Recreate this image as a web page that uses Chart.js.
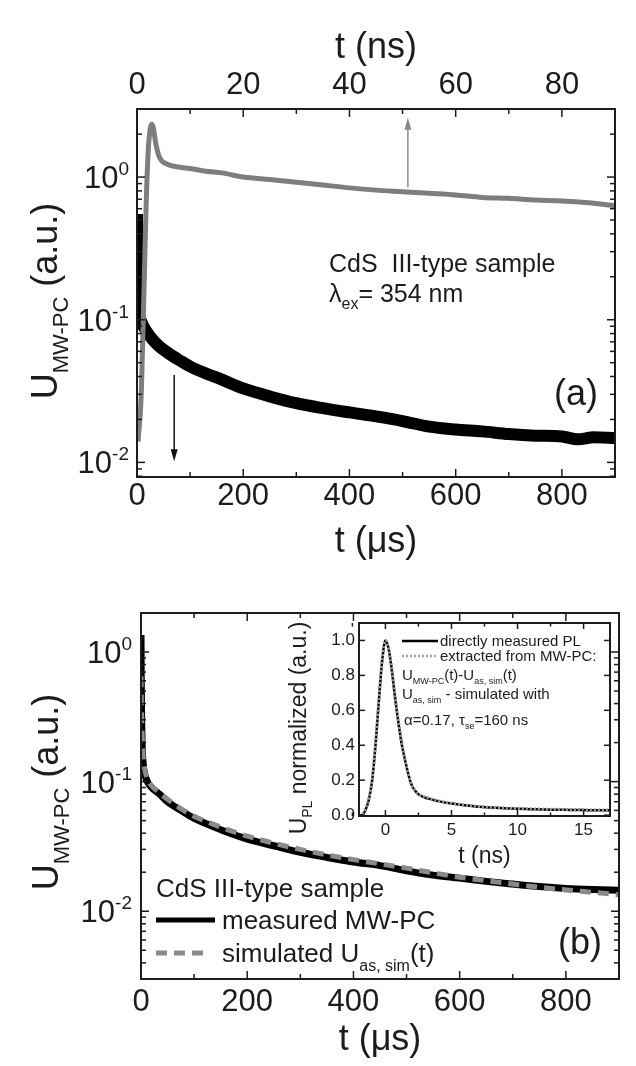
<!DOCTYPE html>
<html lang="en">
<head>
<meta charset="UTF-8">
<title>CdS III-type sample: MW-PC transients</title>
<script src="https://cdn.jsdelivr.net/npm/chart.js"></script>
<style>
    html, body { margin: 0; padding: 0; background: #fff; }
    body { width: 636px; height: 1066px; position: relative; overflow: hidden; }
    canvas { position: absolute; }
    #panelA { left: 0; top: 0; }
    #panelB { left: 0; top: 560px; }
    #inset { left: 250px; top: 600px; }
</style>
</head>
<body>
<canvas id="panelA" width="636" height="560"></canvas>
<canvas id="panelB" width="636" height="506"></canvas>
<canvas id="inset" width="370" height="280"></canvas>

<script>
// ---- panel (a): MW-PC decay on the microsecond scale (black) ----
const tUsA = [0, 1, 2, 4, 8, 15, 25, 40, 60, 80, 100, 130, 160, 200, 250, 300, 350, 400,
              450, 500, 550, 600, 650, 700, 750, 800, 830, 860, 900];
const mwpcUsA = [0.55, 0.25, 0.14, 0.11, 0.097, 0.086, 0.076, 0.066, 0.058, 0.052, 0.047, 0.042,
                 0.038, 0.033, 0.029, 0.026, 0.024, 0.0224, 0.021, 0.0195, 0.0178, 0.017, 0.0165,
                 0.0158, 0.0154, 0.0152, 0.0145, 0.015, 0.0148];

// ---- panel (a): same signal on the nanosecond scale (grey, top axis) ----
const tNsA = [0.2, 0.8, 1.3, 1.7, 2.1, 2.5, 2.8, 3.1, 3.5, 4.0, 4.5, 5.5, 7, 10, 13, 16, 20, 25,
              30, 35, 40, 45, 50, 55, 60, 65, 70, 75, 80, 85, 90];
const mwpcNsA = [0.014, 0.03, 0.15, 0.6, 1.5, 2.2, 2.35, 2.2, 1.75, 1.45, 1.32, 1.24, 1.19, 1.15,
                 1.1, 1.07, 1.0, 0.96, 0.92, 0.88, 0.84, 0.81, 0.79, 0.77, 0.75, 0.72, 0.71, 0.69,
                 0.68, 0.66, 0.63];

// ---- panel (b): measured vs simulated ----
const tUsB = [0, 0.5, 1, 2, 4, 7, 12, 20, 35, 50, 75, 100, 130, 160, 200, 250, 300, 350, 400,
              450, 500, 550, 600, 650, 700, 750, 800, 850, 900];
const measuredB = [1.35, 0.6, 0.35, 0.2, 0.14, 0.115, 0.1, 0.09, 0.08, 0.07, 0.06, 0.052, 0.046,
                   0.041, 0.036, 0.032, 0.0285, 0.026, 0.024, 0.0225, 0.0205, 0.019, 0.018, 0.017,
                   0.0162, 0.0155, 0.015, 0.0147, 0.0145];
const simulatedB = [0.65, 0.45, 0.35, 0.24, 0.16, 0.125, 0.105, 0.093, 0.082, 0.073, 0.062, 0.054,
                    0.048, 0.043, 0.038, 0.0335, 0.030, 0.0272, 0.025, 0.0232, 0.0215, 0.0198,
                    0.0183, 0.0172, 0.0162, 0.0153, 0.0146, 0.014, 0.0134];

// ---- inset: normalized PL ----
const tNsInset = [-2, -1.75, -1.5, -1.25, -1, -0.75, -0.5, -0.25, 0, 0.25, 0.5, 0.75, 1, 1.25, 1.5,
                  1.75, 2, 2.25, 2.5, 3, 3.5, 4, 5, 6, 7, 8, 9, 10, 11, 12, 13, 14, 15, 16, 17];
const plMeasured = [0, 0, 0.03, 0.09, 0.2, 0.4, 0.65, 0.88, 1.0, 0.95, 0.82, 0.66, 0.52, 0.4, 0.31,
                    0.23, 0.17, 0.14, 0.12, 0.1, 0.09, 0.08, 0.066, 0.056, 0.048, 0.043, 0.039,
                    0.036, 0.034, 0.032, 0.031, 0.03, 0.029, 0.028, 0.028];
const plExtracted = [-0.005, 0.005, 0.04, 0.1, 0.21, 0.41, 0.66, 0.89, 1.0, 0.95, 0.83, 0.67, 0.53,
                     0.41, 0.31, 0.23, 0.17, 0.14, 0.12, 0.105, 0.092, 0.082, 0.068, 0.058, 0.05,
                     0.045, 0.041, 0.038, 0.036, 0.034, 0.033, 0.032, 0.031, 0.03, 0.03];

// ---- ticks ----
const usMajor = [0, 200, 400, 600, 800];
const usMinor = [100, 300, 500, 700, 900];
const nsMajor = [0, 20, 40, 60, 80];
const nsMinor = [10, 30, 50, 70, 90];
const decadesA = [0.01, 0.1, 1];
const decadesB = [0.01, 0.1, 1];
const insetXMajor = [0, 5, 10, 15];
const insetXMinor = [-2.5, 2.5, 7.5, 12.5];
const insetYMajor = [0, 0.2, 0.4, 0.6, 0.8, 1.0];

const FONT = "'Liberation Sans', Arial, sans-serif";
const INK = '#1c1c1c';
const GREY = '#7e7e7e';

function zip(xs, ys) { return xs.map((x, i) => ({ x: x, y: ys[i] })); }

// minor log ticks 2..9 x 10^k inside [lo, hi]
function logMinor(lo, hi) {
    const out = [];
    for (let k = -4; k <= 1; k++) {
        for (let m = 2; m <= 9; m++) {
            const v = m * Math.pow(10, k);
            if (v >= lo && v <= hi) out.push(v);
        }
    }
    return out;
}

// text with sub/superscripts, parts = [{t, size, dy}]
function rich(ctx, parts, x, y, align) {
    let w = 0;
    parts.forEach(p => { ctx.font = p.size + 'px ' + FONT; w += ctx.measureText(p.t).width; });
    let cx = align === 'center' ? x - w / 2 : x;
    ctx.textAlign = 'left';
    ctx.textBaseline = 'alphabetic';
    parts.forEach(p => {
        ctx.font = p.size + 'px ' + FONT;
        ctx.fillText(p.t, cx, y + (p.dy || 0));
        cx += ctx.measureText(p.t).width;
    });
}

function richUp(ctx, parts, x, y) {
    ctx.save();
    ctx.translate(x, y);
    ctx.rotate(-Math.PI / 2);
    rich(ctx, parts, 0, 0, 'center');
    ctx.restore();
}

function arrow(ctx, x, yFrom, yTip, color) {
    const dir = Math.sign(yTip - yFrom);
    ctx.strokeStyle = color;
    ctx.fillStyle = color;
    ctx.lineWidth = 1.5;
    ctx.beginPath();
    ctx.moveTo(x, yFrom);
    ctx.lineTo(x, yTip - dir * 8);
    ctx.stroke();
    ctx.beginPath();
    ctx.moveTo(x, yTip);
    ctx.lineTo(x - 3.5, yTip - dir * 12);
    ctx.lineTo(x + 3.5, yTip - dir * 12);
    ctx.closePath();
    ctx.fill();
}

// "10" with exponent, right aligned to the left axis
function logLabels(chart, id, decades, gap) {
    const ctx = chart.ctx;
    const s = chart.scales[id];
    const left = chart.chartArea.left;
    ctx.fillStyle = INK;
    decades.forEach(d => {
        const y = s.getPixelForValue(d);
        const exp = String(Math.round(Math.log10(d)));
        ctx.font = '19px ' + FONT;
        const we = ctx.measureText(exp).width;
        ctx.font = '31px ' + FONT;
        const wb = ctx.measureText('10').width;
        rich(ctx, [{ t: '10', size: 31, dy: 11 }, { t: exp, size: 19, dy: -2 }],
             left - gap - we - wb, y, 'left');
    });
}

// inward tick marks on the frame, box and optional white fill
function frame(axes, fill) {
    return {
        id: 'frame',
        beforeDraw(chart) {
            if (!fill) return;
            const a = chart.chartArea;
            chart.ctx.fillStyle = fill;
            chart.ctx.fillRect(a.left, a.top, a.right - a.left, a.bottom - a.top);
        },
        afterDraw(chart) {
            const ctx = chart.ctx, a = chart.chartArea;
            ctx.save();
            ctx.strokeStyle = INK;
            ctx.lineWidth = 1.5;
            axes.forEach(ax => {
                const s = chart.scales[ax.id];
                const marks = ax.major.map(v => [v, ax.len[0]]).concat(ax.minor.map(v => [v, ax.len[1]]));
                marks.forEach(([v, len]) => {
                    const p = s.getPixelForValue(v);
                    ax.sides.forEach(side => {
                        ctx.beginPath();
                        if (side === 'bottom') { ctx.moveTo(p, a.bottom); ctx.lineTo(p, a.bottom - len); }
                        if (side === 'top') { ctx.moveTo(p, a.top); ctx.lineTo(p, a.top + len); }
                        if (side === 'left') { ctx.moveTo(a.left, p); ctx.lineTo(a.left + len, p); }
                        if (side === 'right') { ctx.moveTo(a.right, p); ctx.lineTo(a.right - len, p); }
                        ctx.stroke();
                    });
                });
            });
            ctx.lineWidth = 2;
            ctx.strokeRect(a.left, a.top, a.right - a.left, a.bottom - a.top);
            ctx.restore();
        }
    };
}

const common = {
    responsive: false,
    animation: false,
    events: [],
    plugins: { legend: { display: false }, tooltip: { enabled: false } },
    elements: {
        point: { radius: 0 },
        line: { cubicInterpolationMode: 'monotone', borderJoinStyle: 'round', fill: false }
    }
};

const noGrid = { display: false, drawTicks: false };
function tickFont(size) { return { family: FONT, size: size, lineHeight: 1 }; }

// ================= panel (a) =================
new Chart(document.getElementById('panelA'), {
    type: 'line',
    data: {
        datasets: [
            { data: zip(tNsA, mwpcNsA), xAxisID: 'x2', yAxisID: 'y', borderColor: GREY,
              borderWidth: 5, order: 0, clip: 0 },
            { data: zip(tUsA, mwpcUsA), xAxisID: 'x', yAxisID: 'y', borderColor: '#000',
              borderWidth: 12, order: 1, clip: 0 }
        ]
    },
    options: Object.assign({}, common, {
        layout: { padding: { right: 21 } },
        scales: {
            x: {
                type: 'linear', position: 'bottom', min: 0, max: 900,
                afterBuildTicks: s => { s.ticks = usMajor.concat([900]).map(v => ({ value: v })); },
                afterFit: s => { s.height = 83; },
                grid: noGrid, border: { display: false },
                ticks: { autoSkip: false, maxRotation: 0, padding: 4, color: INK, font: tickFont(31),
                         callback: v => usMajor.includes(v) ? String(v) : '' },
                title: { display: true, text: 't (\u03bcs)', color: INK, font: tickFont(36),
                         padding: { top: 0, bottom: 0 } }
            },
            x2: {
                type: 'linear', position: 'top', min: 0, max: 90,
                afterBuildTicks: s => { s.ticks = nsMajor.concat([90]).map(v => ({ value: v })); },
                afterFit: s => { s.height = 109; },
                grid: noGrid, border: { display: false },
                ticks: { autoSkip: false, maxRotation: 0, padding: 8, color: INK, font: tickFont(31),
                         callback: v => nsMajor.includes(v) ? String(v) : '' },
                title: { display: true, text: 't (ns)', color: INK, font: tickFont(36),
                         padding: { top: 30, bottom: 0 } }
            },
            y: {
                type: 'logarithmic', position: 'left', min: 0.0079, max: 3,
                afterBuildTicks: s => { s.ticks = decadesA.map(v => ({ value: v })); },
                afterFit: s => { s.width = 137; },
                grid: noGrid, border: { display: false },
                ticks: { display: false }
            }
        }
    }),
    plugins: [
        frame([
            { id: 'x', sides: ['bottom'], major: usMajor, minor: usMinor, len: [8, 5] },
            { id: 'x2', sides: ['top'], major: nsMajor, minor: nsMinor, len: [8, 5] },
            { id: 'y', sides: ['left', 'right'], major: decadesA, minor: logMinor(0.0079, 3), len: [8, 5] }
        ]),
        {
            id: 'notesA',
            afterDraw(chart) {
                const ctx = chart.ctx, sx = chart.scales.x, sx2 = chart.scales.x2, sy = chart.scales.y;
                ctx.save();
                logLabels(chart, 'y', decadesA, 8);
                ctx.fillStyle = INK;
                richUp(ctx, [{ t: 'U', size: 36 }, { t: 'MW-PC', size: 22, dy: 11 },
                             { t: ' (a.u.)', size: 36 }], 57, 301);
                rich(ctx, [{ t: 'CdS  III-type sample', size: 25 }], 329, 272, 'left');
                rich(ctx, [{ t: '\u03bb', size: 25 }, { t: 'ex', size: 16, dy: 7 },
                           { t: '= 354 nm', size: 25 }], 329, 302, 'left');
                ctx.font = '36px ' + FONT;
                ctx.textAlign = 'center';
                ctx.textBaseline = 'middle';
                ctx.fillText('(a)', 576, 395);
                arrow(ctx, sx2.getPixelForValue(51), sy.getPixelForValue(0.85), sy.getPixelForValue(2.6), '#8a8a8a');
                arrow(ctx, sx.getPixelForValue(70), sy.getPixelForValue(0.041), sy.getPixelForValue(0.0102), '#111');
                ctx.restore();
            }
        }
    ]
});

// ================= panel (b) =================
new Chart(document.getElementById('panelB'), {
    type: 'line',
    data: {
        datasets: [
            { data: zip(tUsB, simulatedB), xAxisID: 'x', yAxisID: 'y', borderColor: '#8a8a8a',
              borderWidth: 5, borderDash: [11, 7], order: 0, clip: 0 },
            { data: zip(tUsB, measuredB), xAxisID: 'x', yAxisID: 'y', borderColor: '#000',
              borderWidth: 7, order: 1, clip: 0 }
        ]
    },
    options: Object.assign({}, common, {
        layout: { padding: { top: 53, right: 17 } },
        scales: {
            x: {
                type: 'linear', position: 'bottom', min: 0, max: 900,
                afterBuildTicks: s => { s.ticks = usMajor.concat([900]).map(v => ({ value: v })); },
                afterFit: s => { s.height = 87; },
                grid: noGrid, border: { display: false },
                ticks: { autoSkip: false, maxRotation: 0, padding: 7.5, color: INK, font: tickFont(31),
                         callback: v => usMajor.includes(v) ? String(v) : '' },
                title: { display: true, text: 't (\u03bcs)', color: INK, font: tickFont(36),
                         padding: { top: 0, bottom: 8 } }
            },
            y: {
                type: 'logarithmic', position: 'left', min: 0.003, max: 2,
                afterBuildTicks: s => { s.ticks = decadesB.map(v => ({ value: v })); },
                afterFit: s => { s.width = 141; },
                grid: noGrid, border: { display: false },
                ticks: { display: false }
            }
        }
    }),
    plugins: [
        frame([
            { id: 'x', sides: ['bottom', 'top'], major: usMajor, minor: usMinor, len: [8, 5] },
            { id: 'y', sides: ['left', 'right'], major: decadesB, minor: logMinor(0.003, 2), len: [8, 5] }
        ]),
        {
            id: 'notesB',
            afterDraw(chart) {
                const ctx = chart.ctx;
                ctx.save();
                logLabels(chart, 'y', decadesB, 9);
                ctx.fillStyle = INK;
                richUp(ctx, [{ t: 'U', size: 36 }, { t: 'MW-PC', size: 22, dy: 11 },
                             { t: ' (a.u.)', size: 36 }], 58, 232);
                rich(ctx, [{ t: 'CdS III-type sample', size: 26 }], 156, 337, 'left');
                // legend samples
                ctx.lineWidth = 5;
                ctx.strokeStyle = '#000';
                ctx.beginPath(); ctx.moveTo(156, 360); ctx.lineTo(215, 360); ctx.stroke();
                ctx.strokeStyle = '#8a8a8a';
                ctx.setLineDash([11, 7]);
                ctx.beginPath(); ctx.moveTo(156, 393); ctx.lineTo(208, 393); ctx.stroke();
                ctx.setLineDash([]);
                rich(ctx, [{ t: 'measured MW-PC', size: 26 }], 222, 369, 'left');
                rich(ctx, [{ t: 'simulated U', size: 26 }, { t: 'as, sim', size: 16, dy: 9 },
                           { t: '(t)', size: 26 }], 222, 402, 'left');
                ctx.font = '36px ' + FONT;
                ctx.textAlign = 'center';
                ctx.textBaseline = 'middle';
                ctx.fillText('(b)', 580, 384);
                ctx.restore();
            }
        }
    ]
});

// ================= inset =================
new Chart(document.getElementById('inset'), {
    type: 'line',
    data: {
        datasets: [
            { data: zip(tNsInset, plExtracted), borderColor: '#9a9a9a', borderWidth: 3,
              borderDash: [2, 2], order: 0, clip: 0 },
            { data: zip(tNsInset, plMeasured), borderColor: '#000', borderWidth: 2.5, order: 1, clip: 0 }
        ]
    },
    options: Object.assign({}, common, {
        layout: { padding: { top: 23, right: 10 } },
        scales: {
            x: {
                type: 'linear', position: 'bottom', min: -2, max: 17,
                afterBuildTicks: s => { s.ticks = insetXMajor.map(v => ({ value: v })); },
                afterFit: s => { s.height = 64; },
                grid: noGrid, border: { display: false },
                ticks: { autoSkip: false, maxRotation: 0, padding: 5.5, color: INK, font: tickFont(17) },
                title: { display: true, text: 't (ns)', color: INK, font: tickFont(23),
                         padding: { top: 0, bottom: 11.5 } }
            },
            y: {
                type: 'linear', position: 'left', min: -0.005, max: 1.1,
                afterBuildTicks: s => { s.ticks = insetYMajor.map(v => ({ value: v })); },
                afterFit: s => { s.width = 109; },
                grid: noGrid, border: { display: false },
                ticks: { autoSkip: false, padding: 4, color: INK, font: tickFont(17),
                         callback: v => v.toFixed(1) }
            }
        }
    }),
    plugins: [
        frame([
            { id: 'x', sides: ['bottom', 'top'], major: insetXMajor, minor: insetXMinor, len: [6, 3.5] },
            { id: 'y', sides: ['left', 'right'], major: insetYMajor, minor: [], len: [6, 3.5] }
        ], '#ffffff'),
        {
            id: 'notesInset',
            afterDraw(chart) {
                const ctx = chart.ctx;
                ctx.save();
                ctx.fillStyle = INK;
                richUp(ctx, [{ t: 'U', size: 23 }, { t: 'PL', size: 14, dy: 6 },
                             { t: ' normalized (a.u.)', size: 23 }], 56, 128);
                ctx.lineWidth = 2.5;
                ctx.strokeStyle = '#000';
                ctx.beginPath(); ctx.moveTo(152, 41); ctx.lineTo(188, 41); ctx.stroke();
                ctx.strokeStyle = '#a8a8a8';
                ctx.setLineDash([2, 2]);
                ctx.beginPath(); ctx.moveTo(152, 56); ctx.lineTo(188, 56); ctx.stroke();
                ctx.setLineDash([]);
                rich(ctx, [{ t: 'directly measured PL', size: 15 }], 190, 46, 'left');
                rich(ctx, [{ t: 'extracted from MW-PC:', size: 15 }], 190, 61, 'left');
                rich(ctx, [{ t: 'U', size: 15 }, { t: 'MW-PC', size: 9, dy: 4 }, { t: '(t)-U', size: 15 },
                           { t: 'as, sim', size: 9, dy: 4 }, { t: '(t)', size: 15 }], 152, 80, 'left');
                rich(ctx, [{ t: 'U', size: 15 }, { t: 'as, sim', size: 9, dy: 4 },
                           { t: ' - simulated with', size: 15 }], 152, 99, 'left');
                rich(ctx, [{ t: '\u03b1=0.17, \u03c4', size: 15 }, { t: 'se', size: 9, dy: 4 },
                           { t: '=160 ns', size: 15 }], 154, 125, 'left');
                ctx.restore();
            }
        }
    ]
});
</script>
</body>
</html>
